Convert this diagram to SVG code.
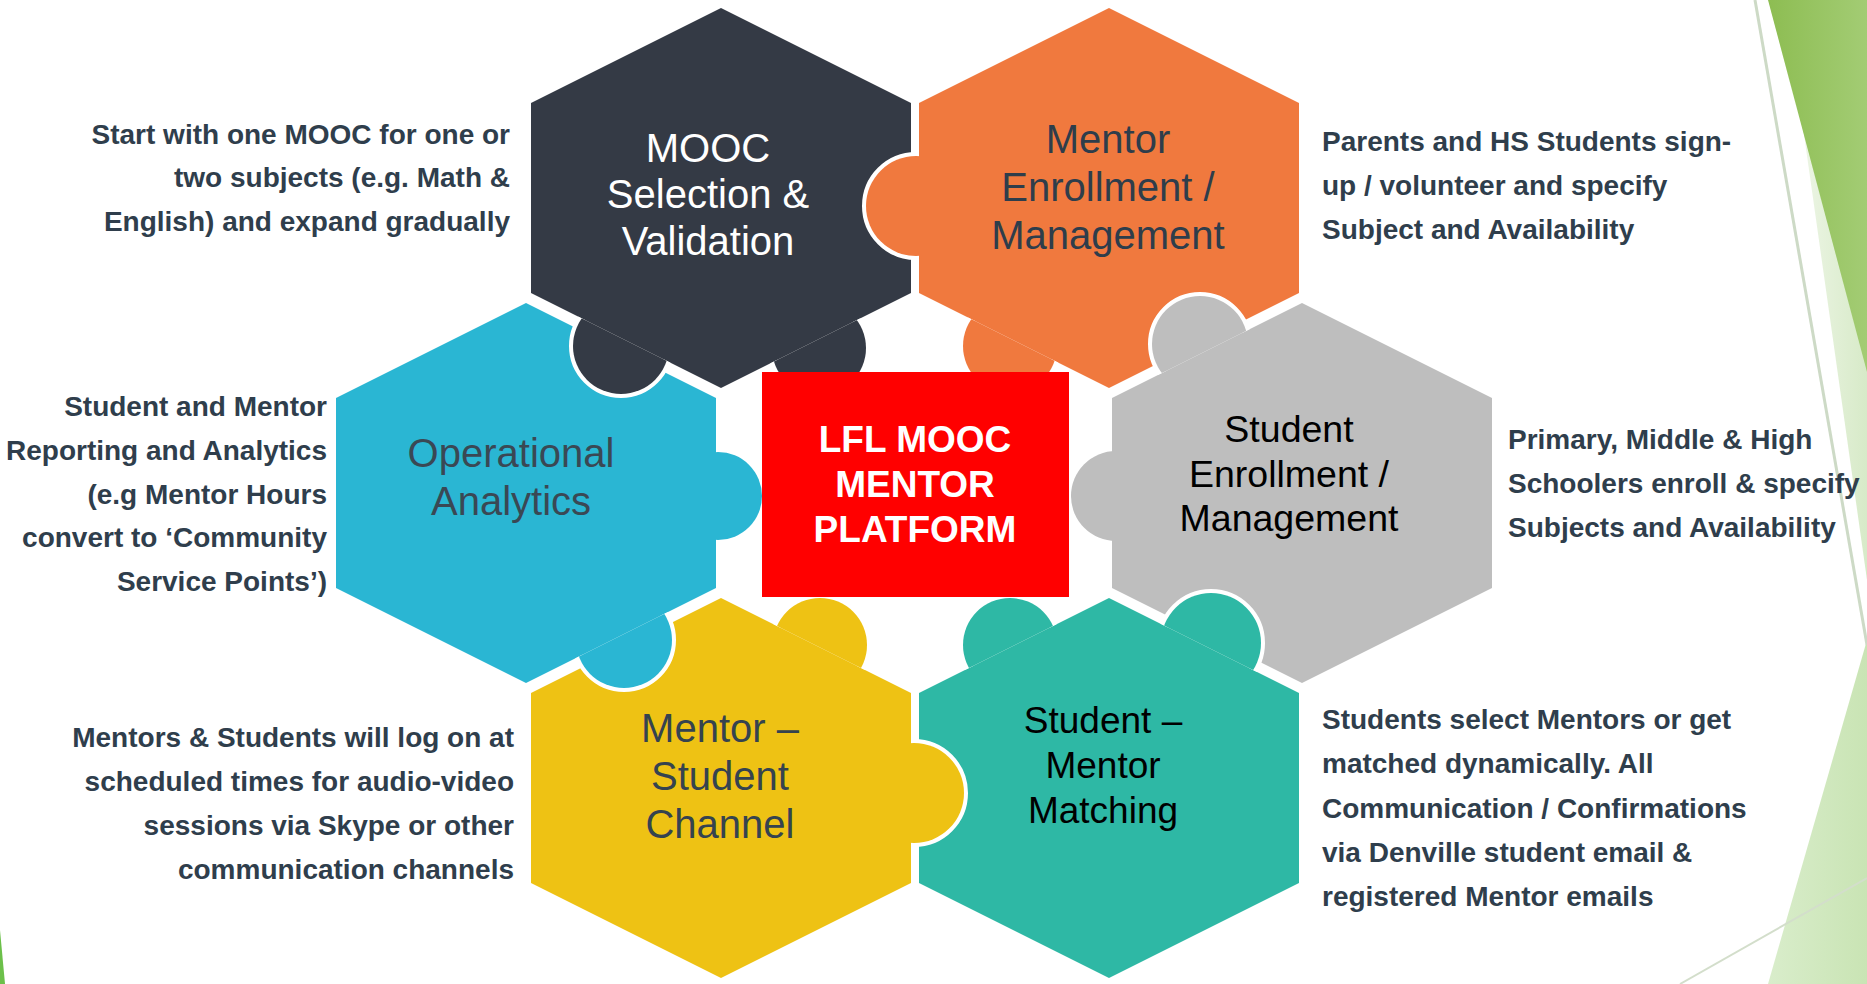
<svg xmlns="http://www.w3.org/2000/svg" width="1867" height="984" viewBox="0 0 1867 984">
<defs>
<style>
.lbl{font-family:"Liberation Sans",Arial,sans-serif;font-size:40px;text-anchor:middle}
.desc{font-family:"Liberation Sans",Arial,sans-serif;font-size:28px;font-weight:bold;fill:#2F3E4C}
.dl{text-anchor:end}
.tab{stroke:#ffffff;stroke-width:8;paint-order:stroke}
.ctr{font-family:"Liberation Sans",Arial,sans-serif;font-size:37px;font-weight:bold;fill:#ffffff;text-anchor:middle}
</style>
<linearGradient id="gDark" x1="0" y1="0" x2="1" y2="0">
<stop offset="0" stop-color="#8DBD52"/><stop offset="1" stop-color="#A3CC74"/>
</linearGradient>
<linearGradient id="gPale" x1="0" y1="0" x2="1" y2="0">
<stop offset="0" stop-color="#F2F8EC"/><stop offset="1" stop-color="#D7EAC8"/>
</linearGradient>
<linearGradient id="gLow" x1="0" y1="0" x2="1" y2="0">
<stop offset="0" stop-color="#D9EDCB"/><stop offset="1" stop-color="#C9E4B4"/>
</linearGradient>
<clipPath id="oDark"><path clip-rule="evenodd" d="M0 0H1867V984H0Z M721 8L911 103L911 293L721 388L531 293L531 103Z"/></clipPath>
<clipPath id="oOrange"><path clip-rule="evenodd" d="M0 0H1867V984H0Z M1109 8L1299 103L1299 293L1109 388L919 293L919 103Z"/></clipPath>
<clipPath id="oBlue"><path clip-rule="evenodd" d="M0 0H1867V984H0Z M526 303L716 398L716 588L526 683L336 588L336 398Z"/></clipPath>
<clipPath id="oGray"><path clip-rule="evenodd" d="M0 0H1867V984H0Z M1302 303L1492 398L1492 588L1302 683L1112 588L1112 398Z"/></clipPath>
<clipPath id="oYellow"><path clip-rule="evenodd" d="M0 0H1867V984H0Z M721 598L911 693L911 883L721 978L531 883L531 693Z"/></clipPath>
<clipPath id="oTeal"><path clip-rule="evenodd" d="M0 0H1867V984H0Z M1109 598L1299 693L1299 883L1109 978L919 883L919 693Z"/></clipPath>
</defs>
<rect x="0" y="0" width="1867" height="984" fill="#ffffff"/>
<g id="background">
<polygon points="1785,0 1867,0 1867,580" fill="url(#gPale)"/>
<polygon points="1768,0 1867,0 1867,372" fill="url(#gDark)"/>
<polygon points="1867,640 1867,984 1768,984" fill="url(#gLow)"/>
<line x1="1755" y1="0" x2="1867" y2="645" stroke="#CDDAC6" stroke-width="3"/>
<line x1="1680" y1="984" x2="1867" y2="878" stroke="#D3DECB" stroke-width="2"/>
<polygon points="0,930 5,984 0,984" fill="#6CC04A"/>
</g>
<g id="node-mooc">
<polygon points="721,8 911,103 911,293 721,388 531,293 531,103" fill="#343A45"/>
<text class="lbl" fill="#ffffff"><tspan x="708" y="162">MOOC</tspan><tspan x="708" y="208">Selection &amp;</tspan><tspan x="708" y="255">Validation</tspan></text>
</g>
<g id="node-mentor-enrollment">
<polygon points="1109,8 1299,103 1299,293 1109,388 919,293 919,103" fill="#F0793E"/>
<text class="lbl" fill="#2E3D4B"><tspan x="1108" y="153">Mentor</tspan><tspan x="1108" y="201">Enrollment /</tspan><tspan x="1108" y="249">Management</tspan></text>
</g>
<g id="node-operational">
<polygon points="526,303 716,398 716,588 526,683 336,588 336,398" fill="#2AB6D3"/>
<text class="lbl" fill="#3A4854"><tspan x="511" y="467">Operational</tspan><tspan x="511" y="515">Analytics</tspan></text>
</g>
<g id="node-student-enrollment">
<polygon points="1302,303 1492,398 1492,588 1302,683 1112,588 1112,398" fill="#BEBEBE"/>
<text class="lbl" fill="#000000" style="font-size:37.5px"><tspan x="1289" y="442">Student</tspan><tspan x="1289" y="487">Enrollment /</tspan><tspan x="1289" y="531">Management</tspan></text>
</g>
<g id="node-channel">
<polygon points="721,598 911,693 911,883 721,978 531,883 531,693" fill="#EEC214"/>
<text class="lbl" fill="#35434F"><tspan x="720" y="742">Mentor –</tspan><tspan x="720" y="790">Student</tspan><tspan x="720" y="838">Channel</tspan></text>
</g>
<g id="node-matching">
<polygon points="1109,598 1299,693 1299,883 1109,978 919,883 919,693" fill="#2EB8A5"/>
<text class="lbl" fill="#000000" style="font-size:37px"><tspan x="1103" y="733">Student –</tspan><tspan x="1103" y="778">Mentor</tspan><tspan x="1103" y="823">Matching</tspan></text>
</g>
<g id="connectors">
<circle class="tab" cx="621" cy="346" r="48" fill="#343A45" clip-path="url(#oDark)"/>
<circle class="tab" cx="819" cy="348" r="47" fill="#343A45" clip-path="url(#oDark)"/>
<circle class="tab" cx="916" cy="206" r="50" fill="#F0793E" clip-path="url(#oOrange)"/>
<circle class="tab" cx="1010" cy="346" r="47" fill="#F0793E" clip-path="url(#oOrange)"/>
<circle class="tab" cx="1200" cy="344" r="48" fill="#BEBEBE" clip-path="url(#oGray)"/>
<circle class="tab" cx="1116" cy="496" r="45" fill="#BEBEBE" clip-path="url(#oGray)"/>
<circle class="tab" cx="1211" cy="643" r="50" fill="#2EB8A5" clip-path="url(#oTeal)"/>
<circle class="tab" cx="1010" cy="645" r="47" fill="#2EB8A5" clip-path="url(#oTeal)"/>
<circle class="tab" cx="914" cy="793" r="50" fill="#EEC214" clip-path="url(#oYellow)"/>
<circle class="tab" cx="820" cy="645" r="47" fill="#EEC214" clip-path="url(#oYellow)"/>
<circle class="tab" cx="624" cy="640" r="48" fill="#2AB6D3" clip-path="url(#oBlue)"/>
<circle class="tab" cx="718" cy="496" r="44" fill="#2AB6D3" clip-path="url(#oBlue)"/>
</g>
<g id="node-center">
<rect x="762" y="372" width="307" height="225" fill="#FF0000"/>
<text class="ctr"><tspan x="915" y="452">LFL MOOC</tspan><tspan x="915" y="497">MENTOR</tspan><tspan x="915" y="542">PLATFORM</tspan></text>
</g>
<g id="desc-mooc">
<text class="desc dl"><tspan x="510" y="144">Start with one MOOC for one or</tspan><tspan x="510" y="187">two subjects (e.g. Math &amp;</tspan><tspan x="510" y="231">English) and expand gradually</tspan></text>
</g>
<g id="desc-operational">
<text class="desc dl"><tspan x="327" y="416">Student and Mentor</tspan><tspan x="327" y="460">Reporting and Analytics</tspan><tspan x="327" y="504">(e.g Mentor Hours</tspan><tspan x="327" y="547">convert to ‘Community</tspan><tspan x="327" y="591">Service Points’)</tspan></text>
</g>
<g id="desc-channel">
<text class="desc dl"><tspan x="514" y="747">Mentors &amp; Students will log on at</tspan><tspan x="514" y="791">scheduled times for audio-video</tspan><tspan x="514" y="835">sessions via Skype or other</tspan><tspan x="514" y="879">communication channels</tspan></text>
</g>
<g id="desc-mentor-enrollment">
<text class="desc"><tspan x="1322" y="151">Parents and HS Students sign-</tspan><tspan x="1322" y="195">up / volunteer and specify</tspan><tspan x="1322" y="239">Subject and Availability</tspan></text>
</g>
<g id="desc-student-enrollment">
<text class="desc"><tspan x="1508" y="449">Primary, Middle &amp; High</tspan><tspan x="1508" y="493">Schoolers enroll &amp; specify</tspan><tspan x="1508" y="537">Subjects and Availability</tspan></text>
</g>
<g id="desc-matching">
<text class="desc"><tspan x="1322" y="729">Students select Mentors or get</tspan><tspan x="1322" y="773">matched dynamically. All</tspan><tspan x="1322" y="818">Communication / Confirmations</tspan><tspan x="1322" y="862">via Denville student email &amp;</tspan><tspan x="1322" y="906">registered Mentor emails</tspan></text>
</g>
</svg>
